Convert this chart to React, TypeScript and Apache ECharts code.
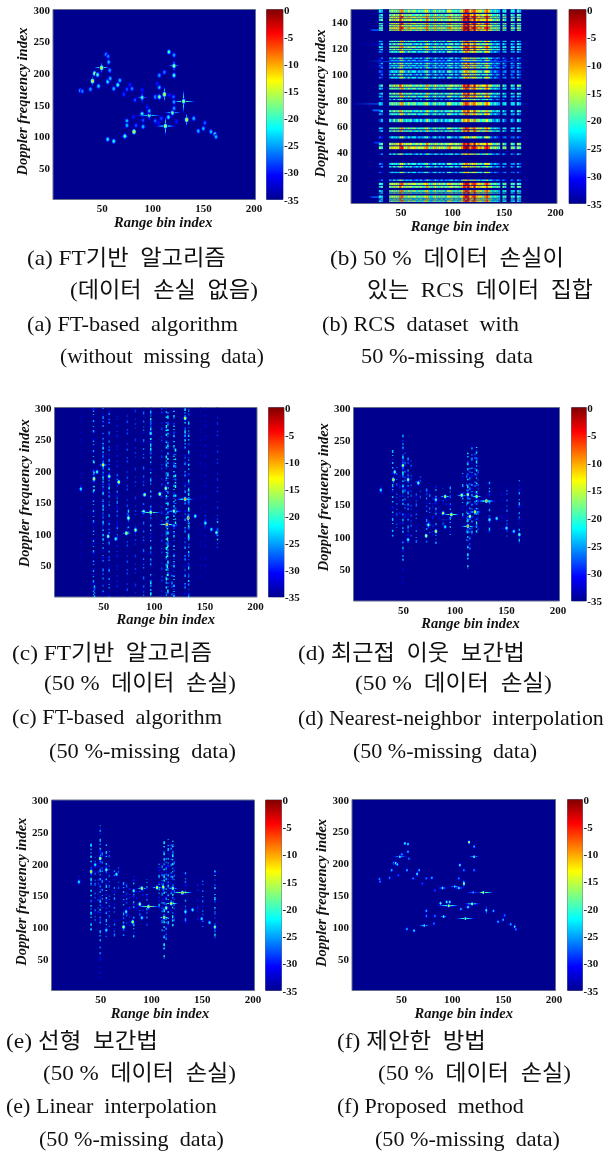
import React, { useEffect, useRef } from "react";
import * as echarts from "echarts";

const FLOOR_DB = -35;
const xTicksMax = 200;
const yTicksMax = 300;
const yTicksMaxB = 150;

// Peaks: [range bin, doppler index, dB, horizontal flare bins, vertical flare bins]
const peaksA = [
  [27,172,-24,1,6],[29,171,-26,1,3],[37,174,-25,1,5],[39,187,-12,1,9],[41,199,-16,3,6],[44,197,-20,3,6],[48,208,-12,9,10],[45,179,-23,1,6],
  [52.5,229,-25,2,4],[54.5,226,-26,1,3],[55,217,-24,1,4],[56,204,-25,1,5],[54,186,-22,2,8],[56.5,191,-24,1,6],[60,175,-24,3,3],[64,181,-20,3,6],
  [66,188,-24,2,4],[70,166,-29,1,2],[73,174,-28,1,2],[76,181,-30,1,2],[78,175,-26,3,2],[81,157,-28,1,2],[88,161,-20,6,12],[88,173,-30,1,4],
  [88,135,-20,4,6],[79.5,130.5,-30,2,1],[73,124,-24,1,7],[73,117,-24,1,5],[82,117,-28,3,2],[80,107,-12,1,6],[71,100,-19,5,6],[54,95,-22,1,6],
  [60,92,-21,1,7],[89,115,-24,4,2],[89,125,-28,3,2],[95,133,-18,14,10],[95,140,-24,2,8],[93,146,-30,1,3],[101,124,-27,1,2],[104,121,-30,1,2],
  [111,116,-14,14,18],[107,128,-28,1,4],[114,130,-22,4,4],[118,137,-18,10,8],[122,123,-30,1,2],[129,155,-15,14,22],[132,126,-12,1,12],
  [139,128,-24,2,4],[143.5,108,-24,1,4],[148.5,112,-24,2,5],[150,121,-27,1,4],[156,107,-24,2,3],[160,103,-20,2,5],[161,99,-24,1,6],
  [101,162,-25,3,2],[105,162,-18,5,8],[110,166,-12,1,14],[105,177,-24,1,6],[103,183,-30,1,3],[110,201,-26,2,6],[105,196,-25,3,2],
  [119.5,211,-16,7,12],[119.5,196,-20,1,8],[119.5,228,-25,1,6],[114.5,233,-20,1,5],[115,165,-30,1,2],[119,162,-27,2,2],[119.5,154,-25,3,8],[119.5,144,-25,1,6],
];

const peaksC = [
  [48,209,-13,6,12],[42,198,-20,3,5],[39,187,-12,1,8],[54,191,-17,2,8],[63.5,182,-14,3,6],[26,171,-22,1,8],[89,162,-16,3,5],[104,163,-14,4,5],
  [110,172,-15,1,8],[129,155,-10,12,6],[118,136,-16,10,5],[88,135,-15,4,6],[95,134,-14,12,8],[111,115,-10,10,8],[132,125,-9,1,10],[139,128,-20,2,4],
  [71,101,-12,5,5],[73,125,-15,1,9],[80,106,-16,1,7],[149,117,-20,1,7],[155,107,-22,2,3],[160,102,-18,1,7],[53,96,-16,1,5],[60.5,92,-20,1,4],
  [129,283,-14,1,4],[95,259,-20,1,5],[118,113,-24,6,4],
];

const peaksD = [
  [48,210,-15,2,10],[40,200,-18,3,6],[38.7,188,-11,1,7],[53,188,-16,2,8],[63,183,-18,2,6],[26.5,172,-22,1,7],[89,162,-14,6,3],[105,164,-14,6,3],
  [111,165,-14,1,8],[129,155,-10,12,4],[118,138,-12,9,5],[87,136,-14,3,5],[95,134,-12,9,6],[111,116,-10,8,6],[113,131,-14,4,4],[132,126,-20,1,8],
  [139,128,-20,2,3],[70.5,101,-13,3,3],[72.7,118,-18,1,7],[80,108,-12,1,6],[148.6,113,-20,1,5],[155.7,108,-22,2,3],[161,103,-18,1,7],[53,95,-20,1,5],
  [89,115,-22,3,2],[80,157,-20,2,5],[119.5,162,-14,6,6],
];

const peaksE = [
  [48,208,-14,2,10],[39,187,-11,1,8],[43,198,-22,3,5],[54,190,-18,2,8],[64,183,-20,3,5],[27,171,-22,1,7],[89,161,-12,6,3],[104,162,-13,6,3],
  [110,163,-14,1,10],[129,154,-10,12,4],[118,137,-12,8,5],[87,136,-15,3,5],[95.5,132,-12,12,6],[111,115,-11,6,6],[113,130,-15,4,4],[132,124,-20,1,8],
  [139,127,-21,2,3],[71,100,-14,3,3],[73.5,124,-20,1,7],[80,108,-14,1,6],[148,113,-22,1,5],[155.7,107,-22,2,3],[161,100,-17,1,7],[54,95,-22,1,5],
  [89,114.5,-22,3,2],[81,157,-20,2,5],[119.5,161,-16,6,6],
];

const peaksF = [
  [27,175,-25,1,5],[27.5,171,-26,1,3],[37,177,-26,1,4],[39,189,-24,2,4],[41,200,-24,2,5],[43,200,-18,3,4],[44.5,198,-22,2,4],[47,210,-20,8,2],
  [49,214,-25,3,3],[45.5,181,-28,1,3],[52,231,-20,2,2],[55,230,-22,1,2],[55,218,-24,1,3],[56,207,-26,1,3],[54,189,-24,2,5],[60,176,-26,3,1],
  [64,183,-20,2,6],[66,189,-24,1,4],[69,168,-28,1,2],[73,176,-26,1,2],[78.5,177,-24,1,4],[81.5,157,-28,1,2],[89,161,-20,6,3],[87,137,-18,2,5],
  [93,139,-20,2,5],[96,139,-20,2,5],[95,133,-12,13,2],[90,116,-18,4,1],[73,125,-24,1,5],[73,117,-26,1,3],[81.5,117,-26,3,1],[71,102,-20,6,1],
  [80.5,105,-26,1,6],[54,96.5,-24,1,6],[61,94,-22,2,2],[111.5,113,-16,10,3],[107,128,-24,1,4],[114,131,-20,4,1],[118,136,-14,10,2],[129,154,-14,12,2],
  [132,126,-20,1,8],[139,125,-24,2,1],[143.5,108,-24,1,5],[148.5,111,-24,2,5],[150,118,-26,1,4],[156,104,-24,2,2],[160,100,-20,2,6],[161,96,-26,1,5],
  [101,163,-20,6,1],[105,161,-20,6,1],[110,168,-14,1,8],[105,176,-26,1,5],[106,197,-20,2,5],[110,189,-26,1,3],[120,210,-18,6,1],[120,226,-24,1,5],
  [115,233,-14,1,1],[120,189,-26,1,3],[119,154,-25,8,1],
];

// Vertical smear stripes: [range bin, first doppler index, last doppler index, dB]
const stripesC = [
  [26,60,300,-33],[38.5,0,300,-25],[39.5,0,30,-22],[39,165,215,-21],[48,0,300,-26],[48,90,250,-23],[54,0,300,-26],[54,165,215,-23],[62,0,300,-30],[62,90,195,-26],
  [72,0,300,-28],[73,100,140,-23],[80,0,300,-29],[88,0,300,-27],[95,0,300,-24],[95,225,285,-22],[95,0,30,-21],[106,0,300,-29],[110.5,0,300,-22],[112,0,300,-22],
  [111.5,30,110,-20],[116,0,50,-26],[118,0,300,-23],[119.5,110,235,-21],[129,0,300,-25],[129,240,300,-22],[132.5,0,300,-23],[132.5,90,180,-20],[144,30,300,-33],[149,40,300,-31],
  [149,105,130,-24],[161,75,300,-29],[161,90,120,-22],
];

const stripesD = [
  [38,100,240,-24],[42,110,210,-28],[45,120,200,-30],[48,60,260,-24],[48,20,55,-31],[48,170,230,-22],[50,130,230,-27],[53,90,230,-25],[56,100,220,-28],[61,90,190,-27],
  [65,150,195,-28],[71,90,180,-26],[74,100,175,-27],[77,100,170,-30],[80,85,180,-24],[83,120,160,-31],[87,115,175,-28],[90,125,165,-30],[94,100,180,-25],[106,125,200,-25],
  [110,90,200,-27],[111,50,230,-22],[113,80,210,-26],[115,100,240,-25],[118,120,230,-27],[119.5,100,240,-22],[121,110,215,-28],[132,105,190,-24],[144,110,170,-31],
  [149,100,180,-27],[161,85,190,-24],[26.5,165,180,-25],
];

const stripesE = [
  [39,95,235,-22],[27,165,180,-24],[43,110,210,-27],[46,120,205,-29],[48,50,260,-24],[48,20,60,-31],[50,130,230,-26],[54,85,230,-24],[57,100,220,-28],[62,85,190,-26],
  [66,150,195,-28],[71,85,178,-25],[74,100,170,-27],[77,100,170,-30],[81,80,180,-24],[84,120,160,-31],[87,115,170,-28],[90,125,165,-30],[94,100,175,-26],[106,125,200,-24],
  [109,90,200,-26],[111,50,235,-21],[113,80,210,-25],[115,100,238,-24],[118,120,230,-26],[119.5,95,240,-21],[121,110,215,-27],[132,105,190,-25],[144,110,170,-30],[149,100,180,-27],[161,78,190,-23],
];

// Panel (b): doppler rows kept by the 50 % mask [first, last, gain dB]
const rowsB = [
  [147.5,150,0],[145,146.5,0],[143.5,144.6,3],[141,143,2],[138.5,139.5,3],[136.8,138,1],[135,136.3,4],[133.5,134.6,2],
  [124.8,125.8,-2],[122.4,124,-3],[120.2,121.6,0],[118.5,119.6,-1],[116.5,118,-4],
  [111.8,112.9,-6],[110.3,111.2,-7],[107.6,108.8,-4],[106,107,-5],[104.4,105.5,-5],[101,103,-5],[99,100.3,-6],[96.6,98,-5],
  [90.2,92,1],[88.1,89.6,-1],[84.2,85.6,-1],[82,83.4,-2],[79.9,80.9,-7],[75.8,78.4,-1],[70.5,72.2,-2],[68.3,69.8,-3],
  [62.9,65.5,-4],[57.4,58.8,-1],[55.4,56.6,-2],[50.3,52,-6],[45,46.9,2],[42,44.2,4],[37.6,38.7,-5],
  [29.8,31.4,-4],[27.8,29,-5],[23.5,24.5,-6],[17.5,18.5,-6],[14.2,16,2],[12.1,13.6,1],[9,10.3,0],[7.7,8.5,-1],
  [4.4,6.2,1],[3,3.9,-1],[1.3,2.4,0],
];

// Panel (b): range profile, one value per 2 bins from bin 27, two readings used on alternating rows
const profileOddB = [
  -22,-24,-35,-35,-35,-20,-16,-18,-17,-19,-10,-9,-17,-21,-14,-20,-17,-16,-22,-18,-20,-19,-15,-13,-20,-23,-18,-15,-22,-17,-21,-18,-24,-14,
  -13,-19,-21,-18,-22,-17,-14,-8,-5,-7,-14,-9,-7,-12,-16,-13,-20,-11,-8,-12,-20,-23,-19,-22,-24,-35,-22,-20,-35,-35,-22,-21,-32,-20,-24,
];
const profileEvenB = [
  -25,-20,-35,-35,-35,-17,-21,-13,-20,-15,-8,-14,-20,-16,-19,-15,-22,-20,-17,-21,-16,-22,-19,-11,-17,-20,-21,-14,-19,-22,-16,-23,-18,-20,
  -17,-14,-22,-16,-19,-21,-12,-6,-9,-4,-11,-13,-5,-15,-12,-18,-14,-15,-9,-17,-15,-21,-22,-18,-21,-35,-19,-24,-35,-35,-19,-24,-35,-17,-21,
];
const profileStartB = 27;
const profileStepB = 2;

// Panel (b): leakage streaks along range [doppler index, first bin, last bin, dB]
const streaksB = [
  [150,20,172,-33],[134,18,34,-28],[123,2,178,-33],[110,16,170,-28],[106,10,175,-33],[77,1,175,-28],[72,20,30,-27],[47,22,30,-29],[18,22,175,-32],[5,18,32,-28],
];

const colorbarTicks = { min: -35, max: 0, step: 5 };

// (label, x, right end x, centre y) caption lines
const captions: [string, number, number, number][] = [
  ["(a) FT기반  알고리즘", 27, 226, 258], ["(데이터  손실  없음)", 70, 258, 290], ["(a) FT-based  algorithm", 27, 238, 324], ["(without  missing  data)", 60, 264, 356],
  ["(b) 50 %  데이터  손실이", 330, 564, 258], ["있는  RCS  데이터  집합", 367, 593, 290], ["(b) RCS  dataset  with", 322, 519, 324], ["50 %-missing  data", 361, 533, 356],
  ["(c) FT기반  알고리즘", 12, 212, 653], ["(50 %  데이터  손실)", 44, 236, 683], ["(c) FT-based  algorithm", 12, 222, 717], ["(50 %-missing  data)", 49, 236, 751],
  ["(d) 최근접  이웃  보간법", 298, 525, 653], ["(50 %  데이터  손실)", 355, 552, 683], ["(d) Nearest-neighbor  interpolation", 298, 604, 717], ["(50 %-missing  data)", 353, 537, 751],
  ["(e) 선형  보간법", 6, 158, 1041], ["(50 %  데이터  손실)", 43, 236, 1073], ["(e) Linear  interpolation", 6, 217, 1106], ["(50 %-missing  data)", 39, 224, 1139],
  ["(f) 제안한  방법", 337, 486, 1041], ["(50 %  데이터  손실)", 378, 571, 1073], ["(f) Proposed  method", 337, 524, 1106], ["(50 %-missing  data)", 375, 560, 1139],
];

// layout of each panel: plot left/top/right/bottom, colorbar left/right, x-title offset & gap, y-title offset & gap, core size
const panels = [
  { l: 53, t: 9.5, r: 255.5, b: 199.5, cl: 266.5, cr: 283, xo: 9, xg: 12, yo: 3, yg: 22, core: 2.8, ymax: yTicksMax, yi: 50 },
  { l: 351, t: 9.5, r: 557, b: 203.5, cl: 569, cr: 586, xo: 6, xg: 15, yo: 3, yg: 20.5, core: 2.6, ymax: yTicksMaxB, yi: 20 },
  { l: 54.5, t: 407.5, r: 257, b: 597, cl: 268.5, cr: 284, xo: 10, xg: 13, yo: 9, yg: 21, core: 2.3, ymax: yTicksMax, yi: 50 },
  { l: 353.5, t: 407.5, r: 559.5, b: 601, cl: 571.5, cr: 586.5, xo: 14, xg: 9, yo: 7, yg: 21, core: 2.2, ymax: yTicksMax, yi: 50 },
  { l: 51.5, t: 800, r: 254.5, b: 990.5, cl: 265.5, cr: 281.5, xo: 7, xg: 9, yo: 3.5, yg: 21.5, core: 2.2, ymax: yTicksMax, yi: 50 },
  { l: 352, t: 799.5, r: 555.5, b: 990.5, cl: 567.5, cr: 582.5, xo: 10, xg: 9, yo: 2, yg: 23, core: 1.8, ymax: yTicksMax, yi: 50 },
];

const SERIF = '"Liberation Serif","Noto Sans CJK KR",serif';
const clamp01 = (v: number) => Math.max(0, Math.min(1, v));
const jetRgb = (db: number) => {
  const v = clamp01((db - FLOOR_DB) / -FLOOR_DB);
  return [
    Math.round(255 * clamp01(Math.min(4 * v - 1.5, -4 * v + 4.5))),
    Math.round(255 * clamp01(Math.min(4 * v - 0.5, -4 * v + 3.5))),
    Math.round(255 * clamp01(Math.min(4 * v + 0.56, -4 * v + 2.5))),
  ];
};
const jet = (db: number, a = 1) => {
  const [r, g, b] = jetRgb(db);
  return `rgba(${r},${g},${b},${a})`;
};
const glow = (db: number) =>
  new echarts.graphic.RadialGradient(0.5, 0.5, 0.5, [
    { offset: 0, color: jet(db) },
    { offset: 0.22, color: jet(db) },
    { offset: 0.5, color: jet(db + (FLOOR_DB - db) * 0.4) },
    { offset: 0.75, color: jet(db + (FLOOR_DB - db) * 0.75, 0.9) },
    { offset: 1, color: jet(FLOOR_DB, 0) },
  ]);

const peakSeries = (i: number, rows: number[][], core: number) => ({
  type: "custom",
  xAxisIndex: i,
  yAxisIndex: i,
  silent: true,
  clip: true,
  data: rows,
  renderItem: (_: any, api: any) => {
    const [px, py] = api.coord([api.value(0), api.value(1)]);
    const [sx, sy] = api.size([1, 1]);
    const db = api.value(2);
    const fx = Math.max(api.value(3) * sx, 1.4);
    const fy = Math.max(api.value(4) * sy, 1.4);
    const flareDb = db + (FLOOR_DB - db) * 0.2;
    return {
      type: "group",
      children: [
        { type: "ellipse", shape: { cx: px, cy: py, rx: fx, ry: 1 }, style: { fill: glow(flareDb) } },
        { type: "ellipse", shape: { cx: px, cy: py, rx: 1.2, ry: fy }, style: { fill: glow(flareDb) } },
        { type: "ellipse", shape: { cx: px, cy: py, rx: core, ry: core * 1.3 }, style: { fill: glow(db) } },
      ],
    };
  },
});

const dashes = [
  [1.5, 3, 2, 6, 1, 2, 3, 5, 1.5, 9],
  [2, 5, 1, 2, 1.5, 8, 2.5, 3, 1, 4],
  [1.5, 7, 3, 2, 1, 5, 2, 11, 1, 3],
  [2.5, 4, 1, 9, 2, 2, 1.5, 6],
  [1, 6, 2, 3, 1, 2, 3, 7, 1.5, 4],
  [2, 3.5, 1, 6, 3, 10, 1, 2.5],
  [3, 8, 1.5, 2, 1, 4, 2, 6],
];
const stripeSeries = (i: number, rows: number[][]) => ({
  type: "custom",
  xAxisIndex: i,
  yAxisIndex: i,
  silent: true,
  clip: true,
  data: rows,
  renderItem: (params: any, api: any) => {
    const [x, y0] = api.coord([api.value(0), api.value(1)]);
    const [, y1] = api.coord([api.value(0), api.value(2)]);
    const db = api.value(3);
    const k = params.dataIndex;
    return {
      type: "group",
      children: [
        { type: "line", shape: { x1: x, y1: y0, x2: x, y2: y1 }, style: { stroke: jet(db - 6), lineWidth: 1.8, lineDash: dashes[(k + 3) % 7], lineDashOffset: k * 3 } },
        { type: "line", shape: { x1: x, y1: y0, x2: x, y2: y1 }, style: { stroke: jet(db), lineWidth: 1.4, lineDash: dashes[k % 7], lineDashOffset: k * 5 } },
      ],
    };
  },
});

const cellsB: number[][] = [];
rowsB.forEach((row, r) => {
  const profile = r % 2 ? profileEvenB : profileOddB;
  profile.forEach((val, c) => {
    const x0 = profileStartB + c * profileStepB;
    cellsB.push([x0, x0 + profileStepB, row[0], row[1], val <= FLOOR_DB ? FLOOR_DB : val + row[2]]);
  });
});

const dopplerCellSeries = {
  type: "custom",
  xAxisIndex: 1,
  yAxisIndex: 1,
  silent: true,
  clip: true,
  data: cellsB,
  renderItem: (_: any, api: any) => {
    const [x0, y0] = api.coord([api.value(0), api.value(3)]);
    const [x1, y1] = api.coord([api.value(1), api.value(2)]);
    return { type: "rect", shape: { x: x0, y: y0, width: x1 - x0 + 0.2, height: y1 - y0 }, style: { fill: jet(api.value(4)) } };
  },
};

const streakSeries = {
  type: "custom",
  xAxisIndex: 1,
  yAxisIndex: 1,
  silent: true,
  clip: true,
  data: streaksB,
  renderItem: (_: any, api: any) => {
    const [x0, y] = api.coord([api.value(1), api.value(0)]);
    const [x1] = api.coord([api.value(2), api.value(0)]);
    const db = api.value(3);
    return {
      type: "rect",
      shape: { x: x0, y: y - 0.9, width: x1 - x0, height: 1.8 },
      style: {
        fill: new echarts.graphic.LinearGradient(0, 0, 1, 0, [
          { offset: 0, color: jet(db, 0) },
          { offset: 0.2, color: jet(db) },
          { offset: 0.8, color: jet(db) },
          { offset: 1, color: jet(db, 0) },
        ]),
      },
    };
  },
};

const colorbarSeries = (i: number) => ({
  type: "custom",
  xAxisIndex: i,
  yAxisIndex: i,
  silent: true,
  data: [[0, 1, colorbarTicks.min, colorbarTicks.max]],
  renderItem: (_: any, api: any) => {
    const [x0, y0] = api.coord([api.value(0), api.value(3)]);
    const [x1, y1] = api.coord([api.value(1), api.value(2)]);
    const stops = [0, 0.125, 0.375, 0.625, 0.875, 1].map((o) => ({ offset: 1 - o, color: jet(FLOOR_DB + o * -FLOOR_DB) })).reverse();
    return {
      type: "rect",
      shape: { x: x0, y: y0, width: x1 - x0, height: y1 - y0 },
      style: { fill: new echarts.graphic.LinearGradient(0, 0, 0, 1, stops) },
    };
  },
});

const buildOption = () => {
  const tick = { fontFamily: SERIF, fontWeight: "bold" as const, fontSize: 11, color: "#111" };
  const titleStyle = { fontFamily: SERIF, fontWeight: "bold" as const, fontStyle: "italic" as const, fontSize: 14.5, color: "#111" };
  const grid: any[] = [];
  const xAxis: any[] = [];
  const yAxis: any[] = [];
  panels.forEach((p) => {
    grid.push({
      left: p.l, top: p.t, width: p.r - p.l, height: p.b - p.t, show: true,
      backgroundColor: jet(FLOOR_DB), borderColor: "#66708a", borderWidth: 1,
    });
    xAxis.push({
      type: "value", gridIndex: grid.length - 1, min: 0, max: xTicksMax, interval: 50,
      name: "Range bin index", nameLocation: "middle", nameGap: p.xg, nameTextStyle: { ...titleStyle, padding: [0, 0, 0, p.xo * 2] },
      axisLine: { show: false }, axisTick: { show: false }, splitLine: { show: false },
      axisLabel: { ...tick, margin: 3, padding: [0, 3, 0, 0], formatter: (v: number) => (v === 0 ? "" : String(v)) },
    });
    yAxis.push({
      type: "value", gridIndex: grid.length - 1, min: 0, max: p.ymax, interval: p.yi,
      name: "Doppler frequency index", nameLocation: "middle", nameRotate: 90, nameGap: p.yg,
      nameTextStyle: { ...titleStyle, padding: [0, 0, 0, p.yo * 2] },
      axisLine: { show: false }, axisTick: { show: false }, splitLine: { show: false },
      axisLabel: { ...tick, margin: 3, formatter: (v: number) => (v === 0 || (v === 150 && p.ymax === 150) ? "" : String(v)) },
    });
  });
  panels.forEach((p) => {
    grid.push({ left: p.cl, top: p.t, width: p.cr - p.cl, height: p.b - p.t, show: true, borderColor: "#66708a", borderWidth: 1 });
    xAxis.push({ type: "value", gridIndex: grid.length - 1, min: 0, max: 1, show: false });
    yAxis.push({
      type: "value", gridIndex: grid.length - 1, min: colorbarTicks.min, max: colorbarTicks.max, interval: colorbarTicks.step, position: "right",
      axisLine: { show: false }, axisTick: { show: false }, splitLine: { show: false },
      axisLabel: { ...tick, margin: 1 },
    });
  });
  const series: any[] = [
    peakSeries(0, peaksA, panels[0].core),
    streakSeries,
    dopplerCellSeries,
    stripeSeries(2, stripesC),
    peakSeries(2, peaksC, panels[2].core),
    stripeSeries(3, stripesD),
    peakSeries(3, peaksD, panels[3].core),
    stripeSeries(4, stripesE),
    peakSeries(4, peaksE, panels[4].core),
    peakSeries(5, peaksF, panels[5].core),
    ...panels.map((_, i) => colorbarSeries(6 + i)),
  ];
  const captionFont = `22px ${SERIF}`;
  const graphic = captions.map(([text, x, xEnd, y]) => {
    const w = (echarts as any).format.getTextRect(text, captionFont).width;
    return {
      type: "text", x, y, scaleX: (xEnd - x) / w, silent: true,
      style: { text, font: captionFont, fill: "#111", verticalAlign: "middle" },
    };
  });
  return { animation: false, backgroundColor: "#fff", grid, xAxis, yAxis, series, graphic };
};

export default function App() {
  const ref = useRef<HTMLDivElement>(null);
  useEffect(() => {
    const chart = echarts.init(ref.current!, undefined, { renderer: "svg" });
    chart.setOption(buildOption());
    return () => chart.dispose();
  }, []);
  return <div ref={ref} style={{ position: "absolute", left: 0, top: 0, width: 605, height: 1156, filter: "blur(0.55px)" }} />;
}
